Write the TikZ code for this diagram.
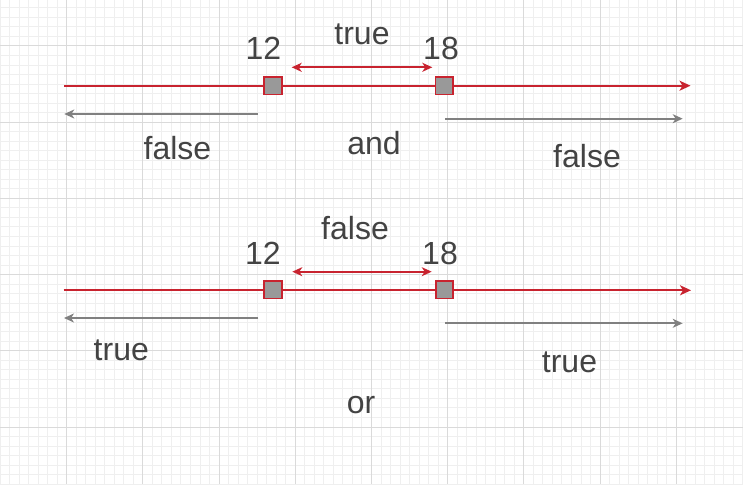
\documentclass[tikz,border=0pt]{standalone}
\usepackage{fontspec}
\setmainfont{Liberation Sans}
\usetikzlibrary{arrows.meta}
\definecolor{redl}{HTML}{C8232F}
\definecolor{grayl}{HTML}{808080}
\definecolor{sqfill}{HTML}{999999}
\definecolor{txt}{HTML}{434343}
\definecolor{gminor}{HTML}{EFEFEF}
\definecolor{gmajor}{HTML}{DADADA}
\tikzset{
  redline/.style={draw=redl, line width=2pt, -{Stealth[length=11pt,width=10pt,inset=3pt]}},
  dblarrow/.style={draw=redl, line width=1.8pt, {Stealth[length=10pt,width=9pt,inset=3pt]}-{Stealth[length=10pt,width=9pt,inset=3pt]}},
  grayarrow/.style={draw=grayl, line width=2pt, -{Stealth[length=10pt,width=9pt,inset=3pt]}},
  sq/.style={draw=redl, fill=sqfill, line width=1.8pt, minimum size=17.5pt, inner sep=0pt, outer sep=0pt},
  lbl/.style={text=txt, font=\fontsize{32}{38}\selectfont, anchor=base, inner sep=0pt},
}
\begin{document}
\begin{tikzpicture}[x=1pt,y=-1pt]
\useasboundingbox (0,0) rectangle (743,484);
\fill[white] (0,0) rectangle (743,484);
% grid
\foreach \k in {0,...,78} {\draw[gminor, line width=1pt] ({9.525*\k},0) -- ({9.525*\k},484);}
\foreach \k in {0,...,50} {\draw[gminor, line width=1pt] (0,{7.9+9.525*\k}) -- (743,{7.9+9.525*\k});}
\foreach \k in {-1,...,9} {\draw[gmajor, line width=1pt] ({66.7+76.2*\k},0) -- ({66.7+76.2*\k},484);}
\foreach \k in {-1,...,6} {\draw[gmajor, line width=1pt] (0,{46+76.2*\k}) -- (743,{46+76.2*\k});}

% ---------- top (and) ----------
\coordinate (ts) at (64,85.7);
\coordinate (te) at (690.5,85.7);
\draw[redline] (ts) -- (te);
\node[sq] (t12) at (273,85.7) {};
\node[sq] (t18) at (444.3,85.7) {};
\node[lbl] (t12l) at (263.3,59.3) {12};
\node[lbl] (t18l) at (441,59.3) {18};
\node[lbl] (ttrue) at (362,45) {true};
\coordinate (tda) at (291.7,67.3);
\coordinate (tdb) at (432.3,67.3);
\draw[dblarrow] (tda) -- (tdb);
\coordinate (tgl1) at (257.7,114);
\coordinate (tgl2) at (64.3,114);
\draw[grayarrow] (tgl1) -- (tgl2);
\coordinate (tgr1) at (445,118.7);
\coordinate (tgr2) at (682.7,118.7);
\draw[grayarrow] (tgr1) -- (tgr2);
\node[lbl] (tfl) at (177.5,159.3) {false};
\node[lbl] (tand) at (374,154.3) {and};
\node[lbl] (tfr) at (587,167.3) {false};

% ---------- bottom (or) ----------
\coordinate (bs) at (63.5,290.3);
\coordinate (be) at (691,290.3);
\draw[redline] (bs) -- (be);
\node[sq] (b12) at (273,289.7) {};
\node[sq] (b18) at (444.5,289.7) {};
\node[lbl] (b12l) at (263,264.3) {12};
\node[lbl] (b18l) at (440,264.3) {18};
\node[lbl] (bfalse) at (355,239.3) {false};
\coordinate (bda) at (292.3,271.7);
\coordinate (bdb) at (431.7,271.7);
\draw[dblarrow] (bda) -- (bdb);
\coordinate (bgl1) at (258.3,318);
\coordinate (bgl2) at (64,318);
\draw[grayarrow] (bgl1) -- (bgl2);
\coordinate (bgr1) at (445,323.3);
\coordinate (bgr2) at (682.7,323.3);
\draw[grayarrow] (bgr1) -- (bgr2);
\node[lbl] (btl) at (121.3,360) {true};
\node[lbl] (btr) at (569.5,372.7) {true};
\node[lbl] (bor) at (361,413.3) {or};
\end{tikzpicture}
\end{document}
